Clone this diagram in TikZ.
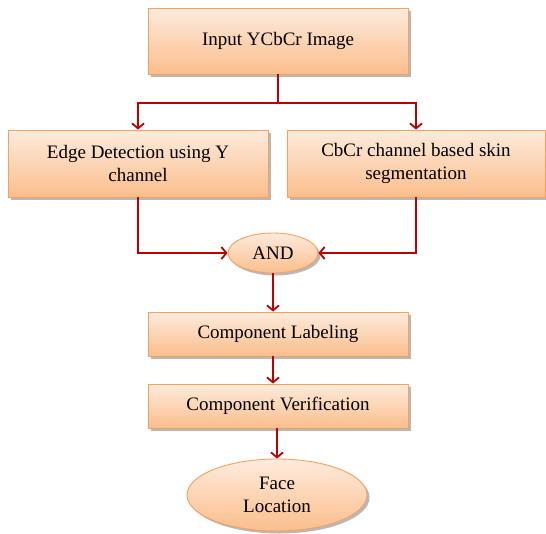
\documentclass[tikz,border=0pt]{standalone}
\usepackage{fontspec}
\setmainfont{Liberation Serif}
\usetikzlibrary{arrows.meta,shapes.geometric,shadows}
\definecolor{boxtop}{HTML}{FDEBDD}
\definecolor{boxbot}{HTML}{FBBE8C}
\definecolor{boxline}{HTML}{F7A15E}
\definecolor{linkred}{HTML}{C00000}
\tikzset{
  base/.style={draw=boxline, line width=0.9pt, top color=boxtop, bottom color=boxbot,
    drop shadow={shadow xshift=2.5pt, shadow yshift=-2.5pt, fill=black!35, opacity=0.8},
    font=\fontsize{19}{23}\selectfont, align=center, inner sep=0pt},
  stepbox/.style={base, rectangle, minimum width=260pt},
  roundbox/.style={base, ellipse},
  link/.style={draw=linkred, line width=1.8pt},
  arr/.style={link, -{Straight Barb[length=5pt, width=12pt, line width=1.8pt]}},
}
\begin{document}
\begin{tikzpicture}[x=1pt, y=-1pt]
\useasboundingbox (0,0) rectangle (546,533);
\node[stepbox, minimum height=66pt] (top) at (278,41) {Input YCbCr Image};
\node[stepbox, minimum height=67pt] (left) at (138,163.5) {Edge Detection using Y\\channel};
\node[stepbox, minimum width=258pt, minimum height=67pt] (right) at (416,163.5) {CbCr channel based skin\\segmentation};
\node[roundbox, minimum width=90pt, minimum height=40pt] (and) at (273,253) {AND};
\node[stepbox, minimum height=44pt] (cl) at (278,334) {Component Labeling};
\node[stepbox, minimum height=44pt] (cv) at (278,406) {Component Verification};
\node[roundbox, minimum width=180pt, minimum height=72pt] (face) at (277,495) {Face\\Location};
\coordinate (j) at (278,103);
\draw[link] (top.south) -- (j);
\draw[arr] (j) -| (left.north);
\draw[arr] (j) -| (right.north);
\draw[arr] (left.south) |- (and.west);
\draw[arr] (right.south) |- (and.east);
\draw[arr] (and.south) -- (and.south |- cl.north);
\draw[arr] (cl.south -| and.south) -- (cv.north -| and.south);
\draw[arr] (cv.south -| face.north) -- (face.north);
\end{tikzpicture}
\end{document}
